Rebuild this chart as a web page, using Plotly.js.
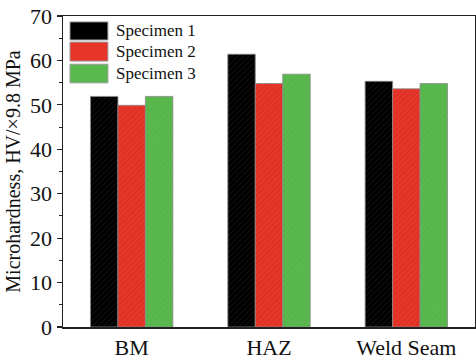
<!DOCTYPE html>
<html>
<head>
<meta charset="utf-8">
<script src="https://cdn.plot.ly/plotly-3.0.1.min.js"></script>
<style>html,body{margin:0;padding:0;background:#fff;}#chart{width:476px;height:359px;}</style>
</head>
<body>
<div id="chart"></div>
<script>
const categories = ["BM", "HAZ", "Weld Seam"];
const seriesNames = ["Specimen 1", "Specimen 2", "Specimen 3"];
const specimen1 = [51.9, 61.4, 55.3];
const specimen2 = [49.9, 54.8, 53.6];
const specimen3 = [51.9, 56.9, 54.8];
const yTicks = [0, 10, 20, 30, 40, 50, 60, 70];

const colors = ["#000000", "#e8352a", "#5ab94e"];
const patColors = ["#1c1c1c", "#c72a20", "#52ad46"];
const values = [specimen1, specimen2, specimen3];

const font = "Liberation Serif, Times New Roman, serif";

const traces = values.map((v, i) => ({
  type: "bar",
  x: categories,
  y: v,
  name: seriesNames[i],
  marker: {
    color: colors[i],
    line: {color: "#8a8a8a", width: 0.8},
    pattern: {shape: "/", fgcolor: patColors[i], bgcolor: colors[i], size: 4, solidity: 0.2, fillmode: "replace"}
  },
  showlegend: false
}));

// legend drawn as layout shapes + annotations
const legX0 = 0.017, legX1 = 0.109;
const legRows = [[0.981, 0.923], [0.916, 0.855], [0.845, 0.785]];
const shapes = legRows.map((r, i) => ({
  type: "rect", xref: "paper", yref: "paper",
  x0: legX0, x1: legX1, y0: r[1], y1: r[0],
  fillcolor: colors[i], line: {color: "#9a9a9a", width: 1}
}));
const annotations = legRows.map((r, i) => ({
  xref: "paper", yref: "paper", x: 0.124, y: (r[0] + r[1]) / 2,
  xanchor: "left", yanchor: "middle", showarrow: false,
  text: seriesNames[i], font: {family: font, size: 17, color: "#111"}
}));

const layout = {
  width: 476, height: 359,
  margin: {l: 63, r: 1, t: 16, b: 32},
  paper_bgcolor: "#fff", plot_bgcolor: "#fff",
  barmode: "group", bargap: 0.4, bargroupgap: 0,
  font: {family: font, color: "#111"},
  xaxis: {
    type: "category", range: [-0.5, 2.5],
    showline: true, linecolor: "#222", linewidth: 1.5, mirror: true,
    ticks: "", showgrid: false, zeroline: false,
    tickfont: {family: font, size: 22, color: "#111"}
  },
  yaxis: {
    range: [0, 70], tickvals: yTicks, ticktext: yTicks.map(String),
    showline: true, linecolor: "#222", linewidth: 1.5, mirror: true,
    ticks: "outside", ticklen: 5, tickwidth: 1.2, tickcolor: "#222",
    minor: {ticks: "outside", ticklen: 3, dtick: 5, tickcolor: "#222", tickwidth: 1},
    showgrid: false, zeroline: false,
    tickfont: {family: font, size: 22, color: "#111"},
    title: {text: "Microhardness, HV/×9.8 MPa", font: {family: font, size: 20, color: "#111"}, standoff: 4}
  },
  shapes: shapes,
  annotations: annotations
};

Plotly.newPlot("chart", traces, layout, {staticPlot: true, displayModeBar: false});
</script>
</body>
</html>
